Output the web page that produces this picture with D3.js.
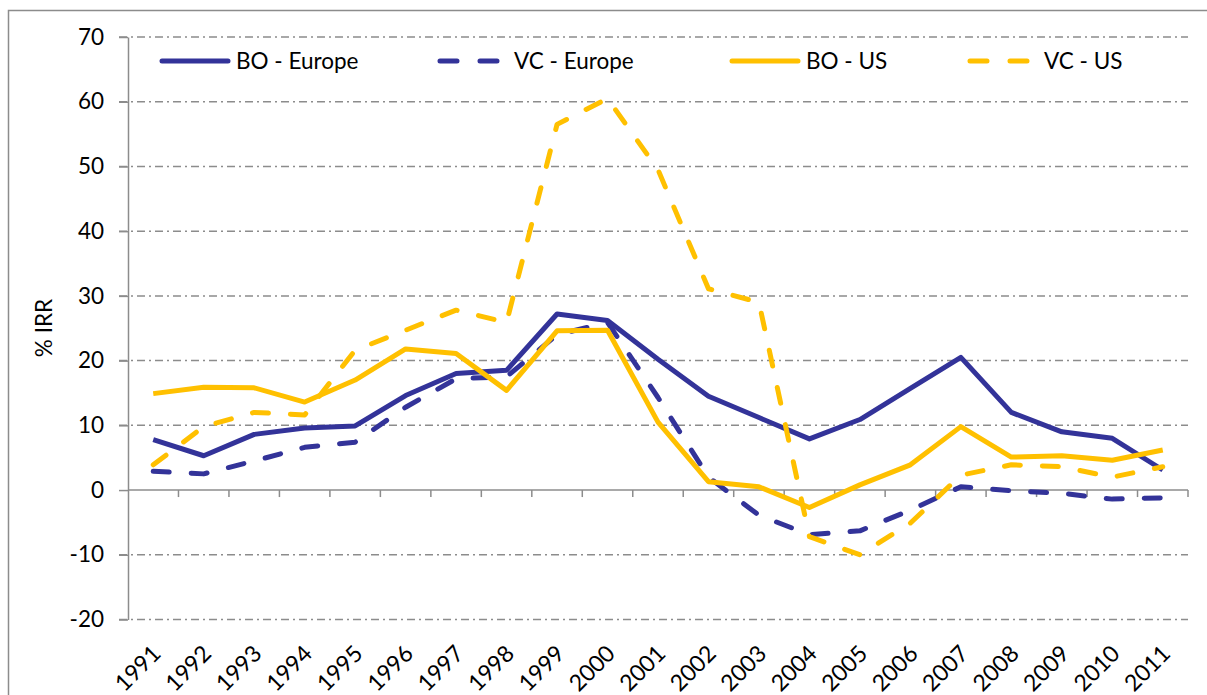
<!DOCTYPE html>
<html>
<head>
<meta charset="utf-8">
<script src="https://cdn.jsdelivr.net/npm/d3@7"></script>
<style>
  body { margin: 0; background: #fff; }
  text { font-family: Lato, "Open Sans", sans-serif; fill: #000; }
</style>
</head>
<body>
<div id="chart"></div>
<script>

// Categories and series
var years = ["1991", "1992", "1993", "1994", "1995", "1996", "1997", "1998", "1999", "2000",
	"2001", "2002", "2003", "2004", "2005", "2006", "2007", "2008", "2009", "2010", "2011"];

var boEurope = [7.8, 5.3, 8.6, 9.6, 9.9, 14.6, 18.0, 18.5, 27.2, 26.2, 20.2, 14.5, 11.2, 7.9, 10.9, 15.7, 20.5, 12.0, 9.0, 8.0, 3.1];
var vcEurope = [2.9, 2.5, 4.5, 6.6, 7.4, 12.8, 17.2, 17.5, 24.0, 25.9, 14.3, 2.0, -3.9, -6.9, -6.3, -3.1, 0.5, -0.1, -0.5, -1.4, -1.2];
var boUS = [14.9, 15.9, 15.8, 13.6, 17.0, 21.8, 21.1, 15.4, 24.6, 24.7, 10.5, 1.3, 0.5, -2.7, 0.8, 3.9, 9.8, 5.1, 5.3, 4.6, 6.2];
var vcUS = [3.9, 9.8, 12.0, 11.6, 21.6, 24.7, 27.8, 25.9, 56.5, 60.5, 49.5, 31.1, 29.0, -7.2, -10.0, -5.1, 2.3, 3.9, 3.6, 2.0, 3.6];

var seriesNames = ["BO - Europe", "VC - Europe", "BO - US", "VC - US"];
var yTicks = [-20, -10, 0, 10, 20, 30, 40, 50, 60, 70];

function drawChart() {

	var width = 1207,
	height = 695;

	// Plot area edges
	var plotLeft = 128, plotRight = 1188, plotTop = 37, plotBottom = 619.5;
	var fontSize = "22.5px";

	var svg = d3.select("#chart")
	.append("svg")
	.attr("width", width)
	.attr("height", height);

	// Outer chart frame
	svg.append("rect")
	.attr("x", 8.5)
	.attr("y", 10.5)
	.attr("width", 1220)
	.attr("height", 720)
	.attr("fill", "none")
	.attr("stroke", "#8c8c8c")
	.attr("stroke-width", 1.5);

	var x = d3.scaleBand()
	.domain(years)
	.range([plotLeft, plotRight])
	.paddingInner(0)
	.paddingOuter(0);

	var y = d3.scaleLinear()
	.domain([-20, 70])
	.range([plotBottom, plotTop]);

	var cx = d => x(d) + x.bandwidth() / 2;

	// Dash-dot gridlines (not at zero, where the axis sits)
	svg.append("g")
	.attr("class", "grid")
	.selectAll("line")
	.data(yTicks.filter(d => d != 0))
	.enter().append("line")
	.attr("x1", plotLeft - 9)
	.attr("x2", plotRight)
	.attr("y1", d => y(d))
	.attr("y2", d => y(d))
	.attr("stroke", "#8c8c8c")
	.attr("stroke-width", 1.5)
	.attr("stroke-dasharray", "8,4,2,4");

	// Y axis, plain hyphen for negatives as in the original
	var yAxis = svg.append("g")
	.attr("transform", "translate(" + plotLeft + ",0)")
	.call(d3.axisLeft(y)
		.tickValues(yTicks)
		.tickFormat(d => String(d))
		.tickSize(9)
		.tickPadding(15)
		.tickSizeOuter(0));

	yAxis.select(".domain").attr("stroke", "#8c8c8c").attr("stroke-width", 1.5);
	yAxis.selectAll(".tick line").attr("stroke", "#8c8c8c").attr("stroke-width", 1.5);
	yAxis.selectAll(".tick text")
	.attr("font-size", fontSize)
	.attr("font-family", "Lato, sans-serif")
	.attr("fill", "#000");

	// X axis line at zero with ticks between categories
	svg.append("line")
	.attr("x1", plotLeft)
	.attr("x2", plotRight)
	.attr("y1", y(0))
	.attr("y2", y(0))
	.attr("stroke", "#8c8c8c")
	.attr("stroke-width", 1.5);

	svg.append("g")
	.selectAll("line")
	.data(years)
	.enter().append("line")
	.attr("x1", d => x(d) + x.bandwidth())
	.attr("x2", d => x(d) + x.bandwidth())
	.attr("y1", y(0))
	.attr("y2", y(0) + 7)
	.attr("stroke", "#8c8c8c")
	.attr("stroke-width", 1.5);

	// Year labels, low position, rotated
	svg.append("g")
	.selectAll("text")
	.data(years)
	.enter().append("text")
	.attr("transform", d => "translate(" + (cx(d) + 9) + "," + 655 + ") rotate(-45)")
	.attr("text-anchor", "end")
	.attr("font-size", "23px")
	.text(d => d);

	// Y axis title
	svg.append("text")
	.attr("transform", "translate(52," + 328 + ") rotate(-90)")
	.attr("text-anchor", "middle")
	.attr("font-size", fontSize)
	.text("% IRR");

	// Series, later ones drawn on top
	var series = [
		{ name: seriesNames[0], values: boEurope, color: "#333399", dash: null },
		{ name: seriesNames[1], values: vcEurope, color: "#333399", dash: "16,22" },
		{ name: seriesNames[2], values: boUS, color: "#FFC000", dash: null },
		{ name: seriesNames[3], values: vcUS, color: "#FFC000", dash: "16,22" }
	];

	var line = d3.line()
	.x((d, i) => cx(years[i]))
	.y(d => y(d));

	svg.append("g")
	.selectAll("path")
	.data(series)
	.enter().append("path")
	.attr("d", d => line(d.values))
	.attr("fill", "none")
	.attr("stroke", d => d.color)
	.attr("stroke-width", 5)
	.attr("stroke-linejoin", "round")
	.attr("stroke-linecap", d => d.dash ? "round" : "butt")
	.attr("stroke-dasharray", d => d.dash);

	// Legend
	var legendX = [160, 438, 730, 968];
	var legend = svg.append("g")
	.selectAll("g")
	.data(series)
	.enter().append("g")
	.attr("transform", (d, i) => "translate(" + legendX[i] + ",61)");

	legend.append("line")
	.attr("x1", 2)
	.attr("x2", 68)
	.attr("stroke", d => d.color)
	.attr("stroke-width", 5)
	.attr("stroke-linecap", "round")
	.attr("stroke-dasharray", d => d.dash ? "17,23" : null);

	legend.append("text")
	.attr("x", 76)
	.attr("y", 8)
	.attr("font-size", fontSize)
	.text(d => d.name);
}

drawChart();

</script>
</body>
</html>
